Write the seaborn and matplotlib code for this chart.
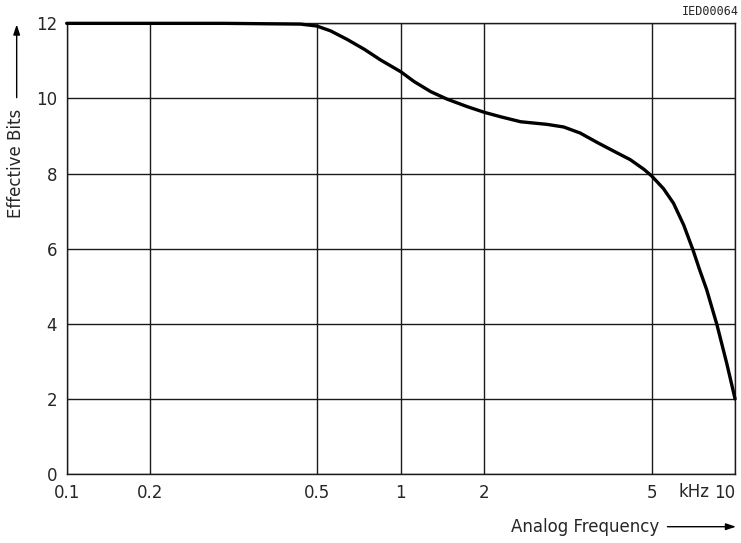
import numpy as np
import pandas as pd
import matplotlib
matplotlib.use('Agg')
import matplotlib.pyplot as plt
import seaborn as sns

# values
freq_khz = [0.1, 0.2, 0.3, 0.456, 0.498, 0.558, 0.641, 0.738, 0.847, 1.0, 1.116, 1.282,
            1.47, 1.738, 2.0, 2.19, 2.44, 2.82, 3.09, 3.38, 3.71, 4.06, 4.45, 4.80,
            5.0, 5.52, 6.0, 6.53, 7.05, 7.45, 7.9, 8.6, 9.33, 10.0]
eff_bits = [12.0, 12.0, 12.0, 11.98, 11.93, 11.80, 11.57, 11.31, 11.02, 10.71, 10.45, 10.18,
            9.98, 9.78, 9.63, 9.51, 9.38, 9.31, 9.24, 9.08, 8.83, 8.60, 8.37, 8.11,
            7.94, 7.60, 7.21, 6.63, 5.97, 5.44, 4.91, 3.98, 2.95, 2.0]

x_ticks = [0.1, 0.2, 0.5, 1, 2, 5, 10]
x_ticklabels = ['0.1', '0.2', '0.5', '1', '2', '5', '10']
y_ticks = [0, 2, 4, 6, 8, 10, 12]

df = pd.DataFrame({'f': freq_khz, 'bits': eff_bits})

sns.set_style('white')
plt.rcParams['font.family'] = ['DejaVu Sans']

# the paper grid is 1-2-5 evenly spaced within each decade, not a true log scale
LOG_PTS = [0.0, np.log10(2), np.log10(5), 1.0]
POS_PTS = [0.0, 0.25, 0.75, 1.0]


def fwd(x):
    x = np.asarray(x, dtype=float)
    lx = np.log10(np.clip(x, 1e-6, None))
    d = np.floor(lx + 1e-12)
    return d + np.interp(lx - d, LOG_PTS, POS_PTS)


def inv(p):
    p = np.asarray(p, dtype=float)
    d = np.floor(p + 1e-12)
    return 10 ** (d + np.interp(p - d, POS_PTS, LOG_PTS))


fig = plt.figure(figsize=(7.41, 5.43), dpi=100)
ax = fig.add_axes([0.090, 0.127, 0.902, 0.830])
ax.set_xscale('function', functions=(fwd, inv))

sns.lineplot(data=df, x='f', y='bits', ax=ax, color='black', linewidth=2.4,
             zorder=5, clip_on=False, solid_capstyle='round', solid_joinstyle='round')

ax.set_xlim(0.1, 10)
ax.set_ylim(0, 12)
ax.set_xticks(x_ticks)
ax.set_xticklabels(x_ticklabels)
ax.xaxis.set_minor_locator(matplotlib.ticker.NullLocator())
ax.set_yticks(y_ticks)
ax.tick_params(length=0, labelsize=12, pad=7)
ax.get_xticklabels()[-1].set_ha('right')
ax.set_xlabel('')
ax.set_ylabel('')

ax.grid(True, color='#1a1a1a', linewidth=1.0)
for s in ax.spines.values():
    s.set_color('#1a1a1a')
    s.set_linewidth(1.0)

# unit tag between 5 and 10, on the tick label line
ax.text(7.1, -0.48, 'kHz', ha='center', va='center', fontsize=12)

# axis titles with arrows, datasheet style
fig.text(0.021, 0.700, 'Effective Bits', rotation=90, ha='center', va='center', fontsize=12)
fig.add_artist(matplotlib.patches.FancyArrowPatch((0.0225, 0.815), (0.0225, 0.960),
               transform=fig.transFigure, arrowstyle='-|>,head_length=6,head_width=2',
               color='black', linewidth=1.0))
fig.text(0.790, 0.030, 'Analog Frequency', ha='center', va='center', fontsize=12)
fig.add_artist(matplotlib.patches.FancyArrowPatch((0.897, 0.030), (0.997, 0.030),
               transform=fig.transFigure, arrowstyle='-|>,head_length=6,head_width=2',
               color='black', linewidth=1.0))
fig.text(0.997, 0.978, 'IED00064', ha='right', va='center', fontsize=8.5,
         family='DejaVu Sans Mono')

fig.savefig('out.png', dpi=100)
